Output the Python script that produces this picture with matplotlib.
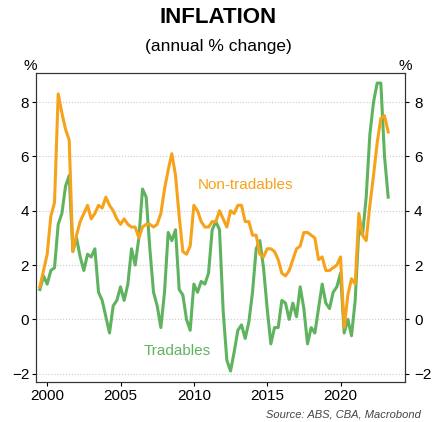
import numpy as np
import matplotlib.pyplot as plt

plt.rcParams['font.family'] = ['Liberation Sans', 'DejaVu Sans']

# quarterly annual % change, starting 1999 Q3
start = 1999.5
non_tradables = [1.2, 1.8, 2.4, 3.8, 4.3, 8.3, 7.6, 7.0, 6.6, 2.5, 3.1, 3.6, 3.9, 4.2, 3.7, 3.9,
                 4.2, 4.1, 4.5, 4.2, 4.0, 3.7, 3.5, 3.7, 3.5, 3.4, 3.4, 3.0, 3.4, 3.5, 3.5, 3.4,
                 3.5, 3.9, 4.8, 5.5, 6.1, 5.3, 3.8, 2.5, 2.4, 2.7, 4.2, 4.0, 3.6, 3.4, 3.4, 3.6,
                 3.6, 4.0, 3.7, 3.4, 4.0, 3.9, 4.2, 4.2, 3.6, 3.6, 3.1, 3.1, 2.4, 2.3, 2.6, 2.6,
                 2.5, 2.2, 1.7, 1.6, 1.8, 2.2, 2.6, 2.7, 3.2, 3.2, 3.1, 3.0, 2.2, 2.3, 1.8, 1.8,
                 1.9, 2.0, 2.3, -0.3, 0.9, 1.5, 1.3, 3.9, 3.1, 2.9, 4.2, 5.3, 6.5, 7.4, 7.5, 6.9]
tradables = [1.1, 1.6, 1.3, 1.8, 1.9, 3.5, 3.9, 4.9, 5.3, 2.5, 3.0, 2.3, 1.8, 2.4, 2.3, 2.6,
             1.0, 0.7, 0.1, -0.5, 0.5, 0.7, 1.2, 0.7, 1.3, 2.6, 2.0, 3.0, 4.8, 4.5, 2.6, 1.0,
             0.5, -0.3, 1.0, 3.2, 2.9, 3.3, 1.1, 0.9, 0.0, -0.4, 1.3, 1.0, 1.4, 1.3, 1.7, 3.3,
             3.6, 3.3, 0.3, -1.5, -1.9, -1.2, -0.4, -0.2, -0.7, -0.1, 1.0, 2.6, 2.9, 1.9, 0.4, -0.9,
             -0.3, -0.3, 0.7, 0.6, 0.0, 0.6, 0.1, 1.2, 0.4, -0.9, -0.3, -0.5, 0.4, 1.3, 0.6, 0.4,
             1.0, 1.2, 1.7, -0.5, 0.0, -0.6, 0.7, 3.3, 3.1, 4.5, 6.8, 8.0, 8.7, 8.7, 6.0, 4.5]
dates = start + 0.25 * np.arange(len(tradables))

orange = '#f7a21b'
green = '#5fb35f'

fig = plt.figure(figsize=(4.36, 4.22), dpi=100)
ax = fig.add_axes([0.083, 0.095, 0.846, 0.732])
ax.plot(dates, tradables, color=green, lw=2.2)
ax.plot(dates[:len(non_tradables)], non_tradables, color=orange, lw=2.2)

ax.set_xlim(1999.25, 2024.4)
ax.set_ylim(-2.3, 9.07)
ax.set_xticks([2000, 2005, 2010, 2015, 2020])
ax.set_yticks([-2, 0, 2, 4, 6, 8])
ax.grid(axis='y', color='#cccccc', ls=':', lw=0.8)
ax.tick_params(labelsize=11, length=3, pad=2)
ax2 = ax.twinx()
ax2.set_ylim(ax.get_ylim())
ax2.set_yticks([-2, 0, 2, 4, 6, 8])
ax2.tick_params(labelsize=11, length=3)
for a in (ax, ax2):
    for s in a.spines.values():
        s.set_color('#333333')

ax.text(2010.3, 4.8, 'Non-tradables', color=orange, fontsize=11)
ax.text(2006.6, -1.3, 'Tradables', color=green, fontsize=11)

fig.text(0.5, 0.945, 'INFLATION', ha='center', fontsize=16, fontweight='bold')
fig.text(0.5, 0.88, '(annual % change)', ha='center', fontsize=12.5)
fig.text(0.07, 0.835, '%', ha='center', fontsize=11)
fig.text(0.93, 0.835, '%', ha='center', fontsize=11)
fig.text(0.965, 0.01, 'Source: ABS, CBA, Macrobond', ha='right', fontsize=8,
         style='italic', color='#444444')

fig.savefig('out.png', dpi=100)
